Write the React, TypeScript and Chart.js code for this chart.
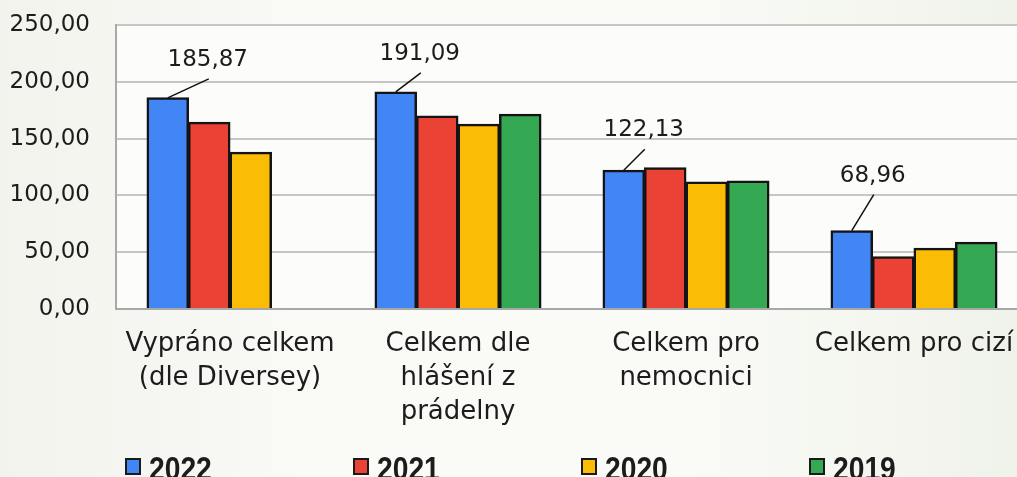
import React, { useEffect, useRef } from "react";
import { Chart, registerables } from "chart.js";

Chart.register(...registerables);

// ---- data ----
const categories: string[][] = [
  ["Vypráno celkem", "(dle Diversey)"],
  ["Celkem dle", "hlášení z", "prádelny"],
  ["Celkem pro", "nemocnici"],
  ["Celkem pro cizí"],
];
const seriesNames = ["2022", "2021", "2020", "2019"];
const values2022 = [185.87, 191.09, 122.13, 68.96];
const values2021 = [164.3, 169.9, 124.4, 46.0];
const values2020 = [138.0, 162.6, 111.8, 53.4];
const values2019 = [null, 171.4, 112.7, 58.7];
const yTicks = [0, 50, 100, 150, 200, 250];

// ---- styles ----
const colors = ["#4285F4", "#EA4335", "#FBBC05", "#34A853"];
const labelOffsets = [
  [40, -38],
  [24, -38],
  [20, -40],
  [21, -55],
];
const TEXT = "#1c1c1c";
const FONT = '"DejaVu Sans", sans-serif';

const fmt = (v: number) => v.toFixed(2).replace(".", ",");

const bgPlugin = {
  id: "bgPlugin",
  beforeDraw(chart: any) {
    const { ctx, chartArea, width, height } = chart;
    ctx.save();
    const g = ctx.createLinearGradient(0, 0, width, 0);
    g.addColorStop(0, "#F1F3EC");
    g.addColorStop(0.3, "#FAFAF7");
    g.addColorStop(0.65, "#FAFBF7");
    g.addColorStop(1, "#EFF2E9");
    ctx.fillStyle = g;
    ctx.fillRect(0, 0, width, height);
    ctx.fillStyle = "#FCFCFA";
    ctx.fillRect(chartArea.left, chartArea.top, chartArea.right - chartArea.left, chartArea.bottom - chartArea.top);
    ctx.restore();
  },
};

const labelPlugin = {
  id: "labelPlugin",
  afterDatasetsDraw(chart: any) {
    const { ctx } = chart;
    const meta = chart.getDatasetMeta(0);
    ctx.save();
    meta.data.forEach((el: any, i: number) => {
      const v = values2022[i];
      if (v == null) return;
      const [dx, dy] = labelOffsets[i];
      const lx = el.x + dx;
      const ly = el.y + dy;
      ctx.strokeStyle = "#111";
      ctx.lineWidth = 1.5;
      ctx.beginPath();
      ctx.moveTo(el.x, el.y);
      ctx.lineTo(lx + 1, ly + 19);
      ctx.stroke();
      ctx.fillStyle = TEXT;
      ctx.font = `23px ${FONT}`;
      ctx.textAlign = "center";
      ctx.textBaseline = "middle";
      ctx.fillText(fmt(v), lx, ly);
    });
    ctx.restore();
  },
};

const legendPlugin = {
  id: "legendPlugin",
  afterDraw(chart: any) {
    const { ctx, chartArea } = chart;
    const step = (chartArea.right - chartArea.left) / categories.length;
    ctx.save();
    chart.data.datasets.forEach((ds: any, i: number) => {
      const x = chartArea.left + 9 + i * step;
      const y = chartArea.bottom + 149;
      ctx.fillStyle = ds.backgroundColor;
      ctx.fillRect(x, y, 16, 17);
      ctx.strokeStyle = "#1a1a1a";
      ctx.lineWidth = 2;
      ctx.strokeRect(x + 1, y + 1, 14, 15);
      ctx.save();
      ctx.translate(x + 24, y + 22);
      ctx.scale(0.83, 1);
      ctx.fillStyle = TEXT;
      ctx.font = 'bold 34px "Liberation Sans", sans-serif';
      ctx.textAlign = "left";
      ctx.textBaseline = "alphabetic";
      ctx.fillText(ds.label, 0, 0);
      ctx.restore();
    });
    ctx.restore();
  },
};

export default function App() {
  const ref = useRef<HTMLCanvasElement | null>(null);

  useEffect(() => {
    if (!ref.current) return;
    const data = [values2022, values2021, values2020, values2019];
    const chart = new Chart(ref.current, {
      type: "bar",
      data: {
        labels: categories as any,
        datasets: seriesNames.map((name, i) => ({
          label: name,
          data: data[i] as any,
          backgroundColor: colors[i],
          borderColor: "#141414",
          borderWidth: 2.5,
          inflateAmount: 0.5,
          barPercentage: 1,
          categoryPercentage: 0.728,
        })),
      },
      options: {
        responsive: false,
        animation: false,
        devicePixelRatio: 1,
        layout: { padding: { top: 25, right: 12, bottom: 0, left: 0 } },
        plugins: {
          legend: { display: false },
          tooltip: { enabled: false },
        },
        scales: {
          x: {
            offset: true,
            grid: { display: false, drawTicks: false },
            border: { display: true, color: "#A8A8A8", width: 2 },
            ticks: {
              color: TEXT,
              font: { family: FONT, size: 26, lineHeight: 34 / 26 },
              padding: 18,
              maxRotation: 0,
              minRotation: 0,
              autoSkip: false,
            },
            afterFit(axis: any) {
              axis.height = 191;
            },
          },
          y: {
            min: 0,
            max: 250,
            grid: { color: "#C6C6C6", lineWidth: 2, drawTicks: false },
            border: { display: true, color: "#A8A8A8", width: 2 },
            afterBuildTicks(axis: any) {
              axis.ticks = yTicks.map((v) => ({ value: v }));
            },
            ticks: {
              color: TEXT,
              font: { family: FONT, size: 23 },
              padding: 26,
              callback: (v: any) => fmt(Number(v)),
            },
            afterFit(axis: any) {
              axis.width = 116;
              axis.paddingTop = 10;
              axis.paddingBottom = 10;
            },
          },
        },
      },
      plugins: [bgPlugin, labelPlugin, legendPlugin],
    });
    return () => chart.destroy();
  }, []);

  return (
    <div
      style={{
        position: "fixed",
        left: 0,
        top: 0,
        width: 1017,
        height: 477,
        overflow: "hidden",
      }}
    >
      <canvas ref={ref} width={1040} height={500} style={{ width: 1040, height: 500, display: "block" }} />
    </div>
  );
}
